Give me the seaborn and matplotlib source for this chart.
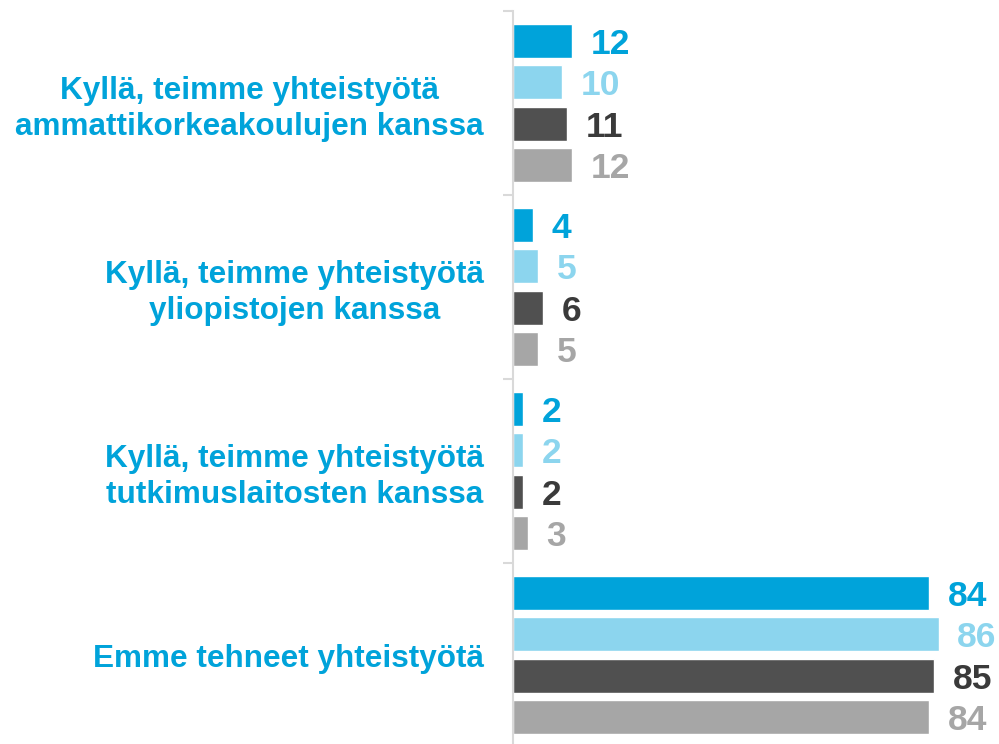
import matplotlib
matplotlib.use("Agg")
import matplotlib.pyplot as plt
from matplotlib.ticker import FixedLocator
import seaborn as sns
import pandas as pd

# Categories and series values (percent)
categories = [
    "Kyllä, teimme yhteistyötä\nammattikorkeakoulujen kanssa",
    "Kyllä, teimme yhteistyötä\nyliopistojen kanssa",
    "Kyllä, teimme yhteistyötä\ntutkimuslaitosten kanssa",
    "Emme tehneet yhteistyötä",
]
series_names = ["Sarja 1", "Sarja 2", "Sarja 3", "Sarja 4"]
series_1 = [12, 4, 2, 84]
series_2 = [10, 5, 2, 86]
series_3 = [11, 6, 2, 85]
series_4 = [12, 5, 3, 84]

bar_colors = ["#00A3DA", "#8CD5EE", "#505050", "#A6A6A6"]
label_colors = ["#00A3DA", "#8CD5EE", "#3A3A3A", "#A6A6A6"]
category_color = "#00A3DA"

rows = []
for name, vals in zip(series_names, [series_1, series_2, series_3, series_4]):
    for cat, v in zip(categories, vals):
        rows.append({"kategoria": cat, "sarja": name, "arvo": v})
df = pd.DataFrame(rows)

sns.set_theme(style="white")
plt.rcParams["font.family"] = ["Liberation Sans", "DejaVu Sans"]

fig = plt.figure(figsize=(9.99, 7.44), dpi=100)
ax = fig.add_axes([513 / 999, -3 / 744, 486 / 999, 736 / 744])

sns.barplot(
    data=df, y="kategoria", x="arvo", hue="sarja", orient="h",
    order=categories, hue_order=series_names, palette=bar_colors,
    width=0.9, gap=0.18, legend=False, saturation=1, ax=ax,
)

for cont, col in zip(ax.containers, label_colors):
    texts = ax.bar_label(cont, labels=[f"{v:.0f}" for v in cont.datavalues],
                         padding=13.5, color=col, fontsize=25.5,
                         fontweight="bold")
    for t in texts:
        t.set_verticalalignment("center_baseline")

ax.set_xlim(0, 98.2)
ax.set_ylim(3.5, -0.5)
ax.set_xlabel("")
ax.set_ylabel("")
ax.set_xticks([])

for side in ["top", "right", "bottom"]:
    ax.spines[side].set_visible(False)
ax.spines["left"].set_color("#D9D9D9")
ax.spines["left"].set_linewidth(1.5)

ax.yaxis.set_minor_locator(FixedLocator([-0.5, 0.5, 1.5, 2.5, 3.5]))
ax.tick_params(axis="y", which="minor", left=True, length=7, width=1.5,
               color="#D9D9D9")
ax.tick_params(axis="y", which="major", left=False, length=0, pad=21)
for lab in ax.get_yticklabels():
    lab.set_color(category_color)
    lab.set_fontsize(22.7)
    lab.set_fontweight("bold")
    lab.set_multialignment("center")
    lab.set_linespacing(1.25)

fig.savefig("out.png", dpi=100)
